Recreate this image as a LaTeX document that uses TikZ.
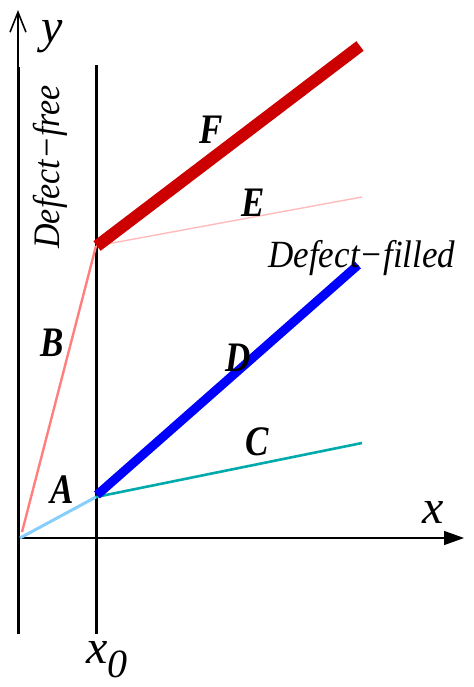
\documentclass[tikz,border=0pt]{standalone}
\usepackage{fontspec}
\setmainfont{Liberation Serif}
\usepackage{graphicx}
\usepackage{xcolor}
\usetikzlibrary{arrows.meta,positioning,calc}
\definecolor{fred}{HTML}{CC0000}
\definecolor{eline}{HTML}{FFBBBB}
\definecolor{bline}{HTML}{FF7F7F}
\definecolor{aline}{HTML}{87CEFA}
\definecolor{cline}{HTML}{00AAAA}
\newcommand{\stretchy}[1]{\scalebox{1}[1.2]{#1}}
\tikzset{
  wall/.style={draw=black, line width=1.5pt},
  ax/.style={draw=black, line width=0.7pt},
  seg/.style={line cap=butt},
  lbl/.style={font=\fontsize{17.5}{17.5}\selectfont\bfseries\itshape, inner sep=0pt},
  axlbl/.style={font=\fontsize{24}{24}\selectfont\itshape, inner sep=0pt},
  zone/.style={font=\itshape, inner sep=0pt},
}

\begin{document}
\begin{tikzpicture}[x=0.5pt, y=-0.5pt]
  \useasboundingbox (0,0) rectangle (473,687);
  \clip (0,0) rectangle (473,687);
  % points of the curves
  \coordinate (O) at (20,538);
  \coordinate (Bst) at (22,532);
  \coordinate (A) at (96,497);
  \coordinate (P) at (96,246);
  \coordinate (Fend) at (360,46);
  \coordinate (Eend) at (362,197);
  \coordinate (Dend) at (358,265);
  \coordinate (Cend) at (362,443);
  % walls and axes
  \coordinate (wl0) at (18,67);
  \coordinate (wl1) at (18,634);
  \coordinate (wr0) at (96,65);
  \coordinate (wr1) at (96,634);
  \coordinate (ytip) at (18,10);
  \coordinate (xtip) at (464,538);
  \coordinate (xst) at (18,538);
  \draw[wall] (wl0) -- (wl1);
  \draw[wall] (wr0) -- (wr1);
  \draw[ax, -{Straight Barb[length=10pt, width=8pt, line width=0.8pt]}] (wl0) -- (ytip);
  \draw[ax, -{Triangle[length=10pt, width=7pt]}] (xst) -- (xtip);
  % segments
  \draw[seg, eline, line width=0.7pt] (P) -- (Eend);
  \draw[seg, bline, line width=1.2pt] (Bst) -- (P);
  \draw[seg, aline, line width=1.5pt] (O) -- (A);
  \draw[seg, cline, line width=1.3pt] (A) -- (Cend);
  \draw[seg, fred, line width=6pt] ($(P)+(1,0)$) -- (Fend);
  \draw[seg, blue, line width=4.5pt] ($(A)+(1,-2)$) -- (Dend);
  % labels
  \node[axlbl] (ylab) at (52,37) {y};
  \node[axlbl] (xlab) at (433,512) {x};
  \node[axlbl, anchor=base west] (x0lab) at (86,663)
    {x\raisebox{-7pt}{\fontsize{20}{20}\selectfont 0}};
  \node[lbl] (F) at (211,130) {\stretchy{F}};
  \node[lbl] (E) at (253,203) {\stretchy{E}};
  \node[lbl] (D) at (238,358) {\stretchy{D}};
  \node[lbl] (C) at (257,442) {\stretchy{C}};
  \node[lbl] (B) at (52,343) {\stretchy{B}};
  \node[lbl] (Al) at (62,490) {\stretchy{A}};
  \node[zone, rotate=90] (free) at (50,167)
    {\fontsize{17}{17}\selectfont\scalebox{1}[1.1]{Defect−free}};
  \node[zone, anchor=base west] (filledlab) at (268,267)
    {\fontsize{17.5}{17.5}\selectfont\scalebox{1}[1.1]{Defect−filled}};
\end{tikzpicture}
\end{document}
